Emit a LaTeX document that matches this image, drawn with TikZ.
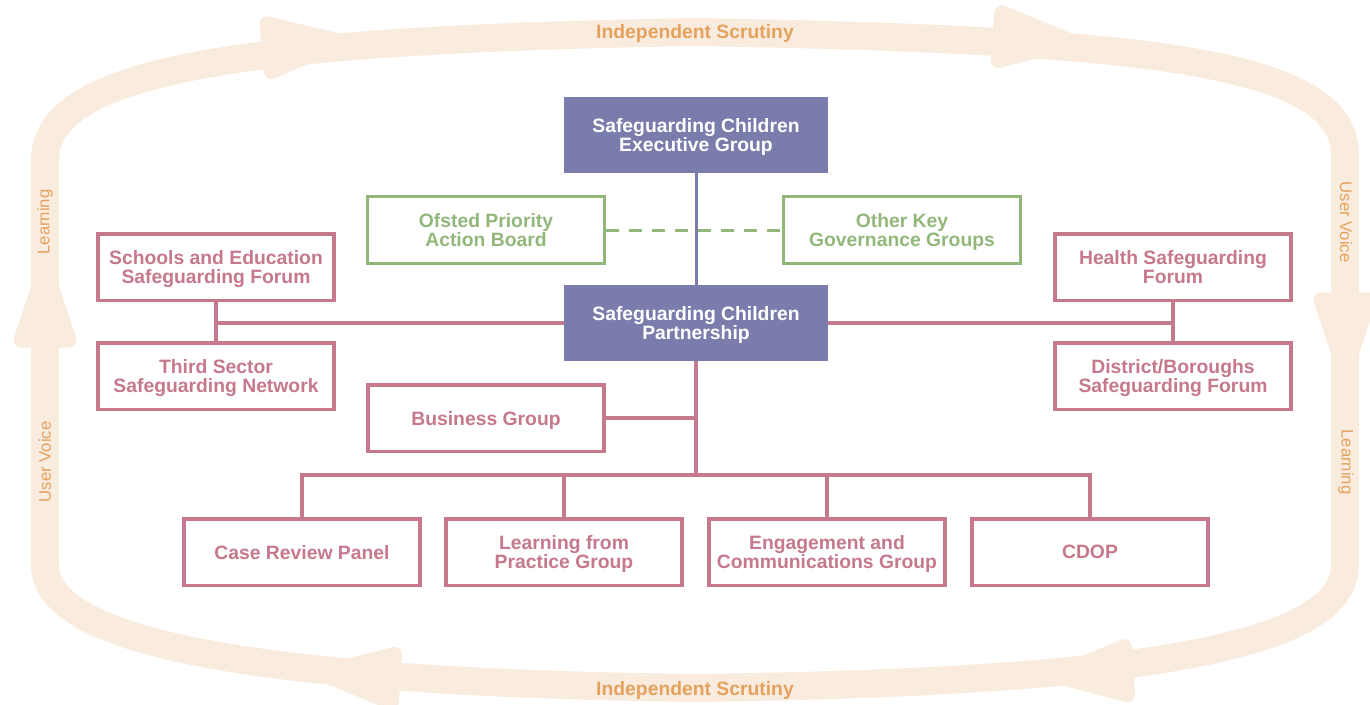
\documentclass[tikz,border=0pt]{standalone}
\usepackage{fontspec}
\setmainfont{Liberation Sans}
\definecolor{scpurple}{HTML}{7A7DAB}
\definecolor{scpink}{HTML}{C6788C}
\definecolor{scgreen}{HTML}{93B77B}
\definecolor{scpeach}{HTML}{F9EBDD}
\definecolor{scorange}{HTML}{E4A25E}
\tikzset{
  boxtext/.style={align=center,text depth=0pt,font=\fontsize{11}{11}\selectfont\bfseries},
  execbox/.style={boxtext,fill=scpurple,text=white,minimum width=5.28cm,minimum height=1.52cm},
  pinkbox/.style={boxtext,draw=scpink,line width=0.07cm,fill=white,text=scpink,minimum width=4.73cm,minimum height=1.33cm},
  greenbox/.style={boxtext,draw=scgreen,line width=0.06cm,fill=white,text=scgreen,minimum width=4.74cm,minimum height=1.34cm},
  pinkline/.style={draw=scpink,line width=0.07cm},
  loopband/.style={draw=scpeach,line width=0.56cm},
  looptip/.style={fill=scpeach,draw=scpeach,line width=0.3cm,line join=round},
  looplabel/.style={text=scorange,text depth=0pt,font=\fontsize{11}{11}\selectfont\bfseries},
  sidelabel/.style={text=scorange,font=\fontsize{9.5}{9.5}\selectfont}
}
\begin{document}
\begin{tikzpicture}[x=0.02cm,y=-0.02cm]
\useasboundingbox (0,0) rectangle (1370,704);
% loop round the partnership
\draw[loopband] (45,565) -- (45,160) .. controls (45,70) and (240,40) .. (695,32)
  .. controls (1150,40) and (1345,62) .. (1345,155) -- (1345,565)
  .. controls (1345,645) and (1150,682) .. (695,688)
  .. controls (240,682) and (45,640) .. (45,565) -- cycle;
\foreach \x/\y/\a in {289/46/5, 1020/38/-4, 1345/320/-90, 1106/672/184, 373/677/176, 45/320/90}{
\filldraw[looptip,shift={(\x,\y)},rotate=\a] (52,0) -- (-20,-24) -- (-20,24) -- cycle;};
\node[looplabel] (scrutinyTop) at (695,31) {Independent Scrutiny};
\node[looplabel] (scrutinyBottom) at (695,688) {Independent Scrutiny};
\node[sidelabel,rotate=90] (learnLeft) at (45,222) {Learning};
\node[sidelabel,rotate=90] (voiceLeft) at (45,462) {User Voice};
\node[sidelabel,rotate=-90] (voiceRight) at (1346,222) {User Voice};
\node[sidelabel,rotate=-90] (learnRight) at (1346,462) {Learning};
% boxes
\node[execbox] (exec) at (696,135) {Safeguarding Children\\Executive Group};
\node[execbox] (partner) at (696,323) {Safeguarding Children\\Partnership};
\node[greenbox] (ofsted) at (486,230) {Ofsted Priority\\Action Board};
\node[greenbox] (otherkey) at (902,230) {Other Key\\Governance Groups};
\node[pinkbox] (schools) at (216,267) {Schools and Education\\Safeguarding Forum};
\node[pinkbox] (third) at (216,376) {Third Sector\\Safeguarding Network};
\node[pinkbox] (health) at (1173,267) {Health Safeguarding\\Forum};
\node[pinkbox] (district) at (1173,376) {District/Boroughs\\Safeguarding Forum};
\node[pinkbox] (business) at (486,418) {Business Group};
\node[pinkbox] (case) at (302,552) {Case Review Panel};
\node[pinkbox] (practice) at (564,552) {Learning from\\Practice Group};
\node[pinkbox] (engage) at (827,552) {Engagement and\\Communications Group};
\node[pinkbox] (cdop) at (1090,552) {CDOP};
\coordinate (bus) at (695,475);
% connectors
\draw[scgreen,line width=0.06cm,dash pattern=on 7.4pt off 5.7pt] (ofsted) -- (otherkey);
\draw[scpurple,line width=0.06cm] (exec) -- (partner);
\draw[pinkline] (partner.west) -- (partner.west -| schools);
\draw[pinkline] (schools) -- (third);
\draw[pinkline] (partner.east) -- (partner.east -| health);
\draw[pinkline] (health) -- (district);
\draw[pinkline] (partner) -- (partner |- bus);
\draw[pinkline] (business.east) -- (business.east -| partner);
\draw[pinkline] (case.north) |- (bus) -| (cdop.north);
\draw[pinkline] (practice) -- (practice |- bus);
\draw[pinkline] (engage) -- (engage |- bus);
\end{tikzpicture}
\end{document}
